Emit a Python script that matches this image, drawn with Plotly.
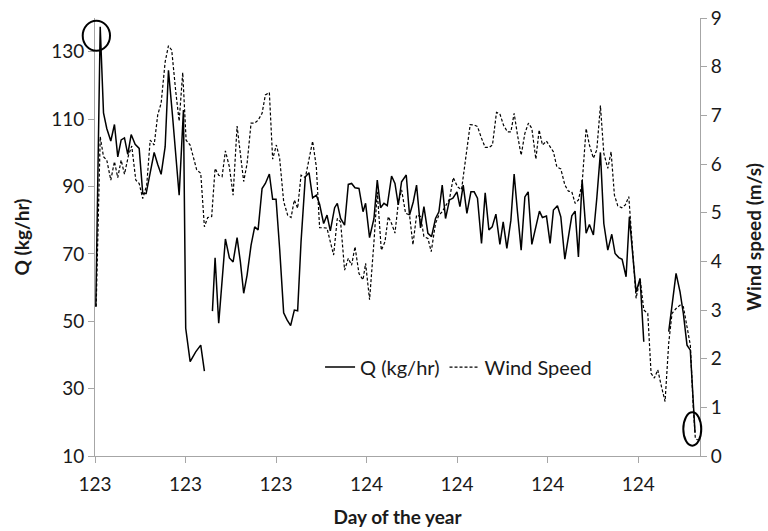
import plotly.graph_objects as go

# ---- data ----
q_day = [
    123.0018, 123.0115, 123.0188, 123.0260, 123.0349, 123.0430, 123.0503, 123.0578, 123.0651, 123.0724,
    123.0799, 123.0887, 123.0976, 123.1055, 123.1130, 123.1219, 123.1307, 123.1386, 123.1461, 123.1550,
    123.1623, 123.1711, 123.1784, 123.1859, 123.1954, 123.2004, 123.2102, 123.2225, 123.2336, 123.2417,
    123.2500,
    123.2594, 123.2653, 123.2733, 123.2808, 123.2881, 123.2969, 123.3051, 123.3139, 123.3212, 123.3285,
    123.3360, 123.3448, 123.3528, 123.3603, 123.3691, 123.3764, 123.3852, 123.3925, 123.4000, 123.4079,
    123.4168, 123.4243, 123.4322, 123.4404, 123.4477, 123.4552, 123.4647, 123.4728, 123.4808, 123.4890,
    123.4962, 123.5051, 123.5126, 123.5199, 123.5294, 123.5353, 123.5426, 123.5514, 123.5596, 123.5669,
    123.5744, 123.5832, 123.5921, 123.5978, 123.6066, 123.6163, 123.6236, 123.6309, 123.6384, 123.6457,
    123.6552, 123.6627, 123.6700, 123.6773, 123.6876, 123.6949, 123.7031, 123.7104, 123.7192, 123.7267,
    123.7355, 123.7435, 123.7523, 123.7598, 123.7671, 123.7744, 123.7832, 123.7907, 123.7996, 123.8062,
    123.8135, 123.8216, 123.8305, 123.8377, 123.8450, 123.8539, 123.8620, 123.8702, 123.8775, 123.8857,
    123.8945, 123.9018, 123.9099, 123.9188, 123.9260, 123.9333, 123.9415, 123.9497, 123.9570, 123.9651,
    123.9740, 123.9819, 123.9885, 123.9974, 124.0055, 124.0128, 124.0216, 124.0291, 124.0380, 124.0459,
    124.0534, 124.0607, 124.0680, 124.0762, 124.0850, 124.0923, 124.1011, 124.1086, 124.1166, 124.1241,
    124.1329, 124.1417, 124.1490, 124.1572, 124.1645, 124.1733, 124.1806, 124.1881, 124.1954, 124.2042,
    124.2124,
    124.2400,
    124.2675, 124.2837, 124.2925, 124.2998, 124.3079, 124.3152, 124.3256,
]
q_kg_hr = [
    54.3, 137.4, 111.8, 107.2, 103.5, 108.4, 98.8, 103.8, 104.4, 99.5,
    105.4, 102.5, 101.3, 87.9, 87.9, 93.6, 100.1, 96.5, 93.6, 101.8,
    124.5, 111.2, 98.3, 87.4, 112.7, 47.9, 38.0, 40.9, 42.9, 35.2,
    None,
    53.0, 68.8, 49.4, 62.7, 74.4, 68.8, 67.6, 74.8, 67.6, 58.3,
    63.7, 72.6, 78.0, 77.1, 89.4, 90.9, 93.7, 86.2, 86.2, 71.6,
    52.5, 50.4, 48.7, 53.3, 53.1, 73.6, 92.9, 94.1, 86.6, 87.4,
    84.7, 79.0, 81.5, 76.8, 83.7, 85.0, 80.5, 78.5, 90.6, 90.9,
    89.6, 89.4, 82.5, 85.0, 74.8, 80.5, 91.9, 83.7, 85.0, 84.3,
    93.1, 90.9, 84.5, 91.4, 93.4, 81.5, 85.4, 90.4, 77.7, 84.0,
    76.1, 75.1, 80.5, 82.5, 90.4, 80.5, 86.0, 86.5, 88.4, 84.0,
    90.4, 82.0, 88.4, 88.4, 86.5, 73.1, 88.1, 77.1, 78.0, 81.8,
    72.8, 79.5, 71.6, 80.0, 93.7, 82.5, 71.1, 86.9, 88.4, 72.8,
    78.5, 82.7, 80.8, 81.2, 73.1, 83.0, 84.3, 81.0, 68.4, 74.8,
    81.3, 82.7, 69.1, 91.9, 76.1, 78.7, 75.6, 86.5, 100.1, 79.0,
    71.1, 75.8, 70.1, 68.9, 68.4, 63.2, 81.0, 69.6, 58.7, 62.7,
    43.9,
    None,
    46.9, 64.2, 58.7, 52.3, 42.9, 41.4, 17.0,
]

wind_day = [
    123.0026, 123.0115, 123.0188, 123.0260, 123.0349, 123.0430, 123.0503, 123.0578, 123.0651, 123.0740,
    123.0812, 123.0901, 123.0976, 123.1055, 123.1143, 123.1219, 123.1307, 123.1386, 123.1461, 123.1550,
    123.1623, 123.1695, 123.1784, 123.1859, 123.1938, 123.2013, 123.2102, 123.2174, 123.2247, 123.2336,
    123.2417, 123.2490, 123.2578, 123.2653, 123.2733, 123.2808, 123.2881, 123.2969, 123.3051, 123.3139,
    123.3212, 123.3285, 123.3360, 123.3448, 123.3528, 123.3603, 123.3691, 123.3764, 123.3852, 123.3925,
    123.4007, 123.4079, 123.4168, 123.4256, 123.4331, 123.4404, 123.4477, 123.4552, 123.4647, 123.4728,
    123.4808, 123.4890, 123.4962, 123.5051, 123.5126, 123.5199, 123.5272, 123.5353, 123.5426, 123.5514,
    123.5596, 123.5669, 123.5744, 123.5832, 123.5921, 123.5978, 123.6066, 123.6163, 123.6236, 123.6325,
    123.6406, 123.6479, 123.6552, 123.6627, 123.6700, 123.6773, 123.6861, 123.6949, 123.7024, 123.7104,
    123.7192, 123.7267, 123.7355, 123.7428, 123.7523, 123.7598, 123.7671, 123.7759, 123.7832, 123.7914,
    123.8009, 123.8097, 123.8194, 123.8289, 123.8377, 123.8450, 123.8539, 123.8620, 123.8709, 123.8781,
    123.8870, 123.8945, 123.9024, 123.9113, 123.9188, 123.9260, 123.9333, 123.9415, 123.9497, 123.9576,
    123.9651, 123.9740, 123.9812, 123.9885, 123.9974, 124.0055, 124.0128, 124.0203, 124.0291, 124.0380,
    124.0459, 124.0534, 124.0607, 124.0680, 124.0762, 124.0850, 124.0923, 124.1011, 124.1086, 124.1166,
    124.1241, 124.1329, 124.1402, 124.1475, 124.1550, 124.1638, 124.1717, 124.1793, 124.1881, 124.1954,
    124.2042, 124.2124, 124.2212, 124.2285, 124.2358, 124.2433, 124.2506, 124.2594, 124.2675, 124.2748,
    124.2837, 124.2925, 124.2998, 124.3079, 124.3152, 124.3219, 124.3263, 124.3316,
]
wind_speed = [
    3.07, 6.56, 6.15, 6.08, 5.67, 6.05, 5.72, 6.08, 5.79, 6.18,
    6.37, 5.67, 5.60, 5.29, 5.57, 6.49, 6.39, 7.01, 7.25, 8.10,
    8.43, 8.34, 7.49, 6.88, 7.88, 6.49, 6.39, 6.12, 5.88, 5.81,
    4.71, 4.90, 4.92, 5.91, 5.77, 5.74, 6.27, 5.94, 5.36, 6.78,
    6.18, 5.64, 6.01, 6.84, 6.84, 6.90, 7.04, 7.42, 7.47, 6.10,
    6.39, 6.12, 5.23, 4.95, 4.90, 5.26, 5.09, 5.77, 5.72, 6.12,
    6.47, 5.94, 4.69, 4.69, 4.68, 4.40, 4.13, 4.88, 4.81, 3.82,
    4.06, 3.92, 4.30, 3.75, 3.62, 3.96, 3.21, 4.40, 5.43, 4.23,
    4.40, 4.92, 4.78, 4.58, 5.19, 5.47, 4.99, 4.95, 4.34, 4.95,
    4.92, 4.51, 4.47, 4.20, 4.78, 4.95, 5.02, 5.16, 5.28, 5.72,
    5.53, 5.47, 6.12, 6.81, 6.80, 6.77, 6.53, 6.34, 6.34, 6.39,
    7.06, 7.03, 6.80, 6.66, 6.66, 7.04, 6.60, 6.18, 6.63, 6.84,
    6.73, 6.10, 6.70, 6.39, 6.47, 6.36, 6.25, 5.94, 5.90, 5.57,
    5.44, 5.43, 5.19, 5.26, 5.60, 6.73, 6.39, 6.12, 6.29, 7.20,
    6.22, 5.91, 6.25, 5.36, 5.14, 5.10, 5.16, 5.33, 4.13, 3.24,
    3.65, 3.00, 2.93, 1.70, 1.60, 1.77, 1.46, 1.12, 2.32, 2.93,
    3.03, 3.10, 3.07, 2.69, 2.28, 0.98, 0.36, 0.33,
]

x_tick_vals = [123.0, 123.2, 123.4, 123.6, 123.8, 124.0, 124.2]
x_tick_text = ["123", "123", "123", "124", "124", "124", "124"]
q_ticks = [10, 30, 50, 70, 90, 110, 130]
wind_ticks = [0, 1, 2, 3, 4, 5, 6, 7, 8, 9]

FONT = "Lato"
AXIS_GRAY = "#A6A6A6"
TICK_SIZE = 19
TITLE_SIZE = 19

fig = go.Figure()
fig.add_trace(go.Scatter(
    x=q_day, y=q_kg_hr, name="Q (kg/hr)", mode="lines",
    line=dict(color="black", width=1.5), connectgaps=False,
))
fig.add_trace(go.Scatter(
    x=wind_day, y=wind_speed, name="Wind Speed", mode="lines", yaxis="y2",
    line=dict(color="black", width=1.2, dash="3px,2px"),
))

# circled highlights
fig.add_shape(type="circle", xref="paper", yref="paper",
              x0=-0.0203, x1=0.0248, y0=0.9253, y1=0.9938,
              line=dict(color="black", width=2))
fig.add_shape(type="circle", xref="paper", yref="paper",
              x0=0.9724, x1=1.0021, y0=0.0235, y1=0.0998,
              line=dict(color="black", width=2))

fig.update_layout(
    width=768, height=531,
    margin=dict(l=95, r=68, t=18, b=75, autoexpand=False),
    paper_bgcolor="white", plot_bgcolor="white",
    font=dict(family=FONT, size=TICK_SIZE, color="#1a1a1a"),
    showlegend=True,
    legend=dict(orientation="h", x=0.372, y=0.203, xanchor="left", yanchor="middle",
                bgcolor="rgba(0,0,0,0)", font=dict(size=20), itemwidth=30,
                tracegroupgap=0),
    xaxis=dict(
        range=[123.0, 124.3366], tickvals=x_tick_vals, ticktext=x_tick_text,
        showgrid=False, zeroline=False, showline=True, linecolor=AXIS_GRAY, linewidth=1,
        ticks="outside", ticklen=6, tickcolor=AXIS_GRAY, ticklabelstandoff=5,
        tickfont=dict(size=TICK_SIZE), automargin=False,
        title=dict(text="<b>Day of the year</b>", font=dict(size=TITLE_SIZE), standoff=16),
    ),
    yaxis=dict(
        range=[10, 140], tickvals=q_ticks,
        showgrid=False, zeroline=False, showline=True, linecolor=AXIS_GRAY, linewidth=1,
        ticks="outside", ticklen=6, tickcolor=AXIS_GRAY,
        tickfont=dict(size=TICK_SIZE), automargin=False,
        title=dict(text="<b>Q (kg/hr)</b>", font=dict(size=TITLE_SIZE), standoff=16),
    ),
    yaxis2=dict(
        range=[0, 9], tickvals=wind_ticks, overlaying="y", side="right",
        showgrid=False, zeroline=False, showline=True, linecolor=AXIS_GRAY, linewidth=1,
        ticks="outside", ticklen=6, tickcolor=AXIS_GRAY,
        tickfont=dict(size=TICK_SIZE), automargin=False,
        title=dict(text="<b>Wind speed (m/s)</b>", font=dict(size=TITLE_SIZE), standoff=26),
    ),
)

fig.write_html("out.html")
